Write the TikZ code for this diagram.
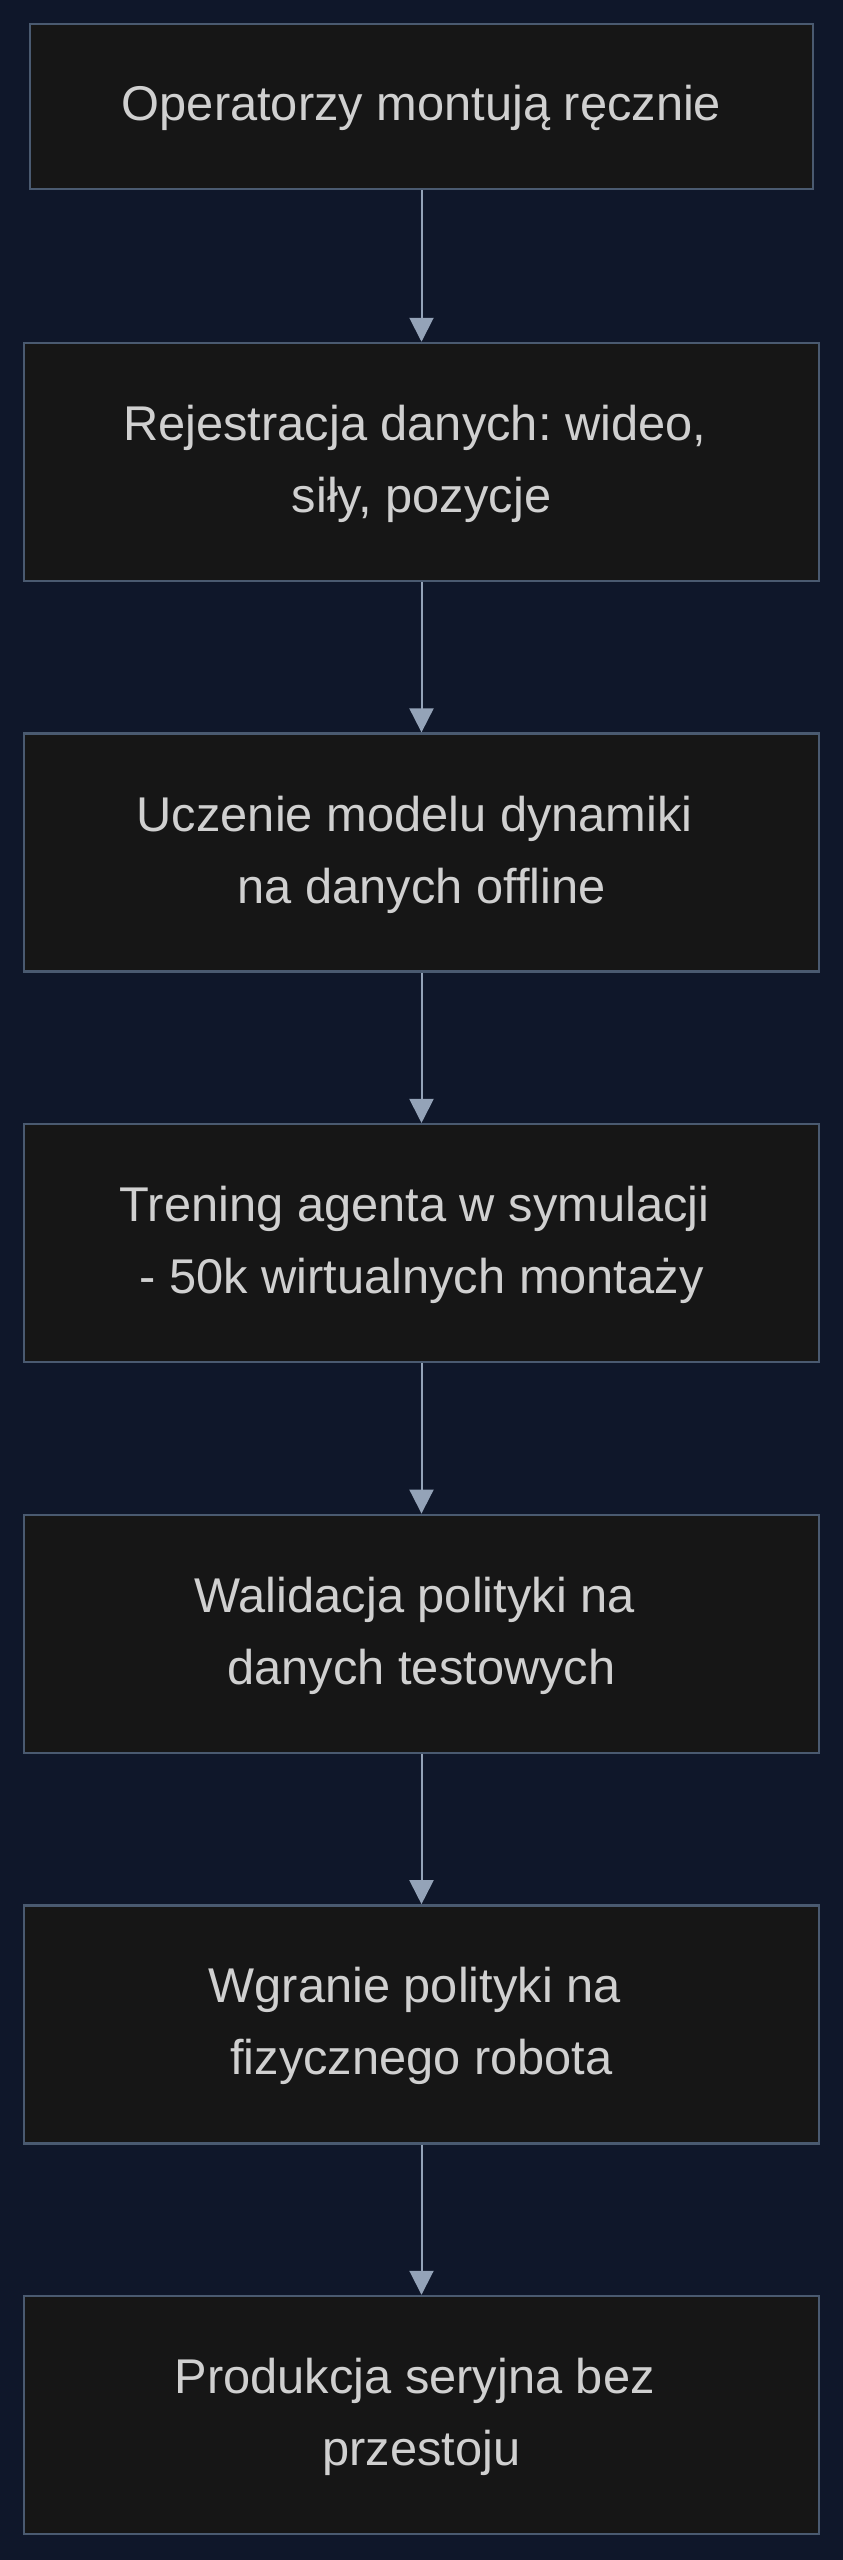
\documentclass[tikz,border=0pt]{standalone}
\usepackage{fontspec}
\setmainfont{Liberation Sans}
\usepackage{xcolor}
\usepackage{tikz}
\usetikzlibrary{arrows.meta}
\definecolor{bgcol}{HTML}{0F172A}
\definecolor{boxfill}{HTML}{161616}
\definecolor{boxline}{HTML}{4A5A70}
\definecolor{arrcol}{HTML}{94A3B8}
\definecolor{txtcol}{HTML}{D0D0D0}
\frenchspacing

\begin{document}
\begin{tikzpicture}[x=1pt,y=-1pt,
box/.style={rectangle,draw=boxline,fill=boxfill,line width=2.5pt,
  minimum width=795pt,minimum height=238pt,inner sep=0pt,
  align=center,text=txtcol,font=\fontsize{48.8}{72}\selectfont},
flow/.style={color=arrcol,line width=2pt,-{Triangle[width=24pt,length=24pt]}}]
\fill[bgcol] (0,0) rectangle (843,2560);

\node (v1) at (421.5,106.5) [box,minimum width=783pt,minimum height=165pt] {\strut Operatorzy montują ręcznie};
\node (v2) at (421.5,462) [box] {\strut Rejestracja danych: wideo,\ \mbox{}\\\strut siły, pozycje};
\node (v3) at (421.5,852.6) [box] {\strut Uczenie modelu dynamiki\ \mbox{}\\\strut na danych offline};
\node (v4) at (421.5,1243.2) [box] {\strut Trening agenta w symulacji\ \mbox{}\\\strut - 50k wirtualnych montaży};
\node (v5) at (421.5,1633.8) [box] {\strut Walidacja polityki na\ \mbox{}\\\strut danych testowych};
\node (v6) at (421.5,2024.4) [box] {\strut Wgranie polityki na\ \mbox{}\\\strut fizycznego robota};
\node (v7) at (421.5,2415) [box] {\strut Produkcja seryjna bez\ \mbox{}\\\strut przestoju};

\draw (v1) edge[flow] (v2);
\draw (v2) edge[flow] (v3);
\draw (v3) edge[flow] (v4);
\draw (v4) edge[flow] (v5);
\draw (v5) edge[flow] (v6);
\draw (v6) edge[flow] (v7);

\end{tikzpicture}
\end{document}
